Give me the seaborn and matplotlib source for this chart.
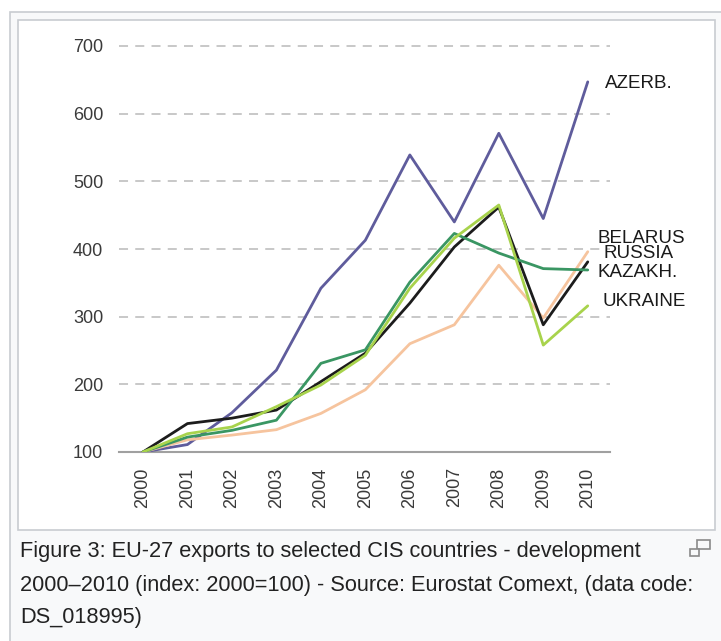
import pandas as pd
import seaborn as sns
import matplotlib.pyplot as plt
from matplotlib.patches import Rectangle

# index values, 2000 = 100
years = list(range(2000, 2011))
azerb = [100, 111, 158, 221, 342, 413, 539, 440, 571, 445, 647]
belarus = [100, 118, 125, 133, 157, 192, 260, 288, 376, 298, 396]
russia = [100, 142, 150, 162, 204, 246, 320, 403, 462, 288, 381]
kazakh = [100, 122, 132, 147, 231, 251, 351, 423, 394, 371, 369]
ukraine = [100, 127, 137, 167, 199, 243, 342, 416, 465, 258, 316]

countries = ["AZERB.", "BELARUS", "RUSSIA", "KAZAKH.", "UKRAINE"]
series = [azerb, belarus, russia, kazakh, ukraine]
colors = {"AZERB.": "#5f5c9c", "BELARUS": "#f6c49e", "RUSSIA": "#1c1c1c",
          "KAZAKH.": "#3a9663", "UKRAINE": "#a8d34c"}

df = pd.DataFrame({
    "year": years * len(countries),
    "index": sum(series, []),
    "country": [c for c in countries for _ in years],
})

sns.set_style("white")
plt.rcParams["font.family"] = ["Liberation Sans", "DejaVu Sans"]

W, H = 721, 641
fig = plt.figure(figsize=(W / 100, H / 100), dpi=100)


def px(x, y):
    return x / W, 1 - y / H


# page frame + thumbnail box
fig.patches.append(Rectangle(px(10, 700), 730 / W, 688 / H, transform=fig.transFigure,
                             facecolor="#f8f9fa", edgecolor="#c8ccd1", lw=1.2, zorder=-2))
fig.patches.append(Rectangle(px(18, 530), 697 / W, 510 / H, transform=fig.transFigure,
                             facecolor="white", edgecolor="#c8ccd1", lw=1.2, zorder=-1))

ax = fig.add_axes([118.5 / W, 1 - 452 / H, (610 - 118.5) / W, (452 - 46) / H])
ax.set_zorder(2)
ax.patch.set_alpha(0)

sns.lineplot(data=df, x="year", y="index", hue="country", palette=colors,
             linewidth=2, legend=False, ax=ax, zorder=3)

ax.set_xlim(1999.45, 2010.5)
ax.set_ylim(100, 700)
ax.set_yticks(range(100, 701, 100))
ax.set_xticks(years)
ax.set_xticklabels([str(y) for y in years], rotation=90)
ax.set_xticks([y + 0.5 for y in [1999] + years], minor=True)
ax.tick_params(axis="x", which="major", length=0, pad=11, labelsize=13, labelcolor="#3a3a3a")
ax.tick_params(axis="x", which="minor", length=4, width=1, color="#a0a0a0", direction="out")
ax.tick_params(axis="y", length=0, pad=11, labelsize=13, labelcolor="#3a3a3a")
ax.set_xlabel("")
ax.set_ylabel("")

for y in range(200, 701, 100):
    ax.axhline(y, color="#c4c4c4", lw=1.3, linestyle=(0, (5, 4)), zorder=1, clip_on=False)

for s in ["left", "top", "right"]:
    ax.spines[s].set_visible(False)
ax.spines["bottom"].set_color("#a0a0a0")
ax.spines["bottom"].set_linewidth(1.5)

lab = dict(fontsize=13.5, color="#1a1a1a", va="center", ha="left")
ax.text(2010.39, 645, "AZERB.", **lab)
ax.text(2010.22, 416, "BELARUS", **lab)
ax.text(2010.36, 393, "RUSSIA", **lab)
ax.text(2010.22, 366, "KAZAKH.", **lab)
ax.text(2010.34, 322, "UKRAINE", **lab)

caption = ["Figure 3: EU-27 exports to selected CIS countries - development",
           "2000\u20132010 (index: 2000=100) - Source: Eurostat Comext, (data code:",
           "DS_018995)"]
for i, line in enumerate(caption):
    fig.text(*px(20, 552 + 33 * i), line, fontsize=15.7, color="#222222", va="center", ha="left")

# enlarge icon
fig.patches.append(Rectangle(px(697, 549), 13 / W, 9 / H, transform=fig.transFigure,
                             facecolor="none", edgecolor="#8a8a8a", lw=1.2))
fig.patches.append(Rectangle(px(690, 556), 9 / W, 7 / H, transform=fig.transFigure,
                             facecolor="#f8f9fa", edgecolor="#8a8a8a", lw=1.2))

fig.savefig("out.png", dpi=100)
